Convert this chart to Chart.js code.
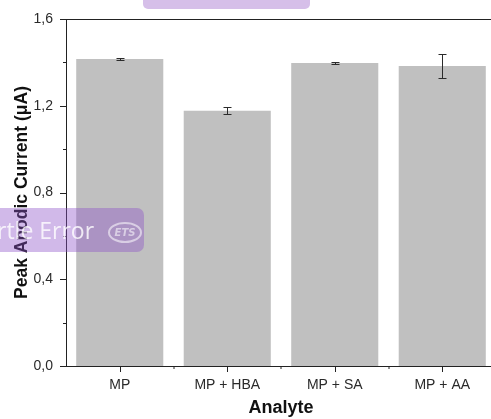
<!DOCTYPE html>
<html>
<head>
<meta charset="utf-8">
<script src="https://cdn.jsdelivr.net/npm/chart.js@4"></script>
<style>
  html, body { margin: 0; padding: 0; background: #fff; overflow: hidden; }
  #wrap { position: relative; width: 500px; height: 419px; }
  .topbar { position: absolute; left: 143px; top: -6px; width: 167px; height: 15px; background: #d6bfe9; border-radius: 5px; }
  .pill { position: absolute; left: -10px; top: 208px; width: 154px; height: 44px; background: rgba(140, 80, 200, 0.4); border-radius: 7px; }
  .pill .txt { position: absolute; left: 7px; top: 6px; font: 23px "Open Sans", sans-serif; color: rgba(255, 255, 255, 0.8); white-space: nowrap; }
  .pill .ets { position: absolute; left: 118px; top: 14px; width: 30px; height: 17px; border: 2px solid rgba(255, 255, 255, 0.55); border-radius: 50%; font: italic bold 10px "DejaVu Sans", sans-serif; color: rgba(255, 255, 255, 0.55); text-align: center; line-height: 17px; }
</style>
</head>
<body>
<div id="wrap">
  <canvas id="chart"></canvas>
  <div class="topbar"></div>
  <div class="pill"><span class="txt">rtle Error</span><span class="ets">ETS</span></div>
</div>
<script>
// dados
const categories = ['MP', 'MP + HBA', 'MP + SA', 'MP + AA'];
const means = [1.415, 1.177, 1.397, 1.383];
const errors = [0.006, 0.016, 0.004, 0.057];
const yTicks = [0, 0.4, 0.8, 1.2, 1.6];

// barras de erro, moldura e marcas dos eixos
const extras = {
    id: 'extras',
    afterDatasetsDraw(chart) {
        const { ctx, chartArea, scales: { x, y } } = chart;
        ctx.save();
        ctx.strokeStyle = '#2b2b2b';
        ctx.lineWidth = 1;

        const meta = chart.getDatasetMeta(0);
        meta.data.forEach((bar, i) => {
            const cx = Math.round(bar.x) + 0.5;
            const hi = Math.round(y.getPixelForValue(means[i] + errors[i])) + 0.5;
            const lo = Math.round(y.getPixelForValue(means[i] - errors[i])) + 0.5;
            ctx.beginPath();
            ctx.moveTo(cx, hi); ctx.lineTo(cx, lo);
            ctx.moveTo(cx - 4, hi); ctx.lineTo(cx + 4, hi);
            ctx.moveTo(cx - 4, lo); ctx.lineTo(cx + 4, lo);
            ctx.stroke();
        });

        // linha de cima
        ctx.strokeStyle = '#222';
        ctx.beginPath();
        ctx.moveTo(chartArea.left, chartArea.top + 0.5);
        ctx.lineTo(chartArea.right, chartArea.top + 0.5);
        ctx.stroke();

        // marcas do eixo y
        y.ticks.forEach(t => {
            const py = Math.round(y.getPixelForValue(t.value)) + 0.5;
            const major = yTicks.some(v => Math.abs(v - t.value) < 1e-6);
            ctx.beginPath();
            ctx.moveTo(chartArea.left - (major ? 6 : 3), py);
            ctx.lineTo(chartArea.left, py);
            ctx.stroke();
        });

        // marcas do eixo x
        const step = x.getPixelForValue(1) - x.getPixelForValue(0);
        categories.forEach((c, i) => {
            const px = Math.round(x.getPixelForValue(i)) + 0.5;
            ctx.beginPath();
            ctx.moveTo(px, chartArea.bottom);
            ctx.lineTo(px, chartArea.bottom + 6);
            ctx.moveTo(Math.round(px + step / 2), chartArea.bottom);
            ctx.lineTo(Math.round(px + step / 2), chartArea.bottom + 3);
            ctx.stroke();
        });
        ctx.restore();
    }
};

const ctx = document.getElementById('chart').getContext('2d');
new Chart(ctx, {
    type: 'bar',
    data: {
        labels: categories,
        datasets: [{
            data: means,
            backgroundColor: '#c0c0c0',
            borderWidth: 0,
            barPercentage: 0.81,
            categoryPercentage: 1
        }]
    },
    options: {
        responsive: true,
        maintainAspectRatio: false,
        animation: false,
        layout: { padding: { top: 19, right: 4, left: 0, bottom: 0 } },
        plugins: {
            legend: { display: false },
            tooltip: { enabled: false }
        },
        scales: {
            x: {
                afterFit: scale => { scale.height = 53; },
                grid: { display: false, drawTicks: true, tickLength: 6 },
                border: { display: true, color: '#222', width: 1 },
                ticks: {
                    color: '#2a2a2a',
                    padding: 5,
                    font: { family: 'Liberation Sans, Arial, sans-serif', size: 14 }
                },
                title: {
                    display: true,
                    text: 'Analyte',
                    color: '#111',
                    padding: { top: 0, bottom: 0 },
                    font: { family: 'Liberation Sans, Arial, sans-serif', size: 18, weight: 'bold' }
                }
            },
            y: {
                min: 0,
                max: 1.6,
                afterFit: scale => { scale.width = 66; },
                afterBuildTicks: scale => {
                    scale.ticks = [];
                    for (let v = 0; v <= 1.6001; v += 0.2) scale.ticks.push({ value: Math.round(v * 10) / 10 });
                },
                grid: { display: false, drawTicks: true, tickLength: 6 },
                border: { display: true, color: '#222', width: 1 },
                ticks: {
                    color: '#2a2a2a',
                    padding: 7,
                    autoSkip: false,
                    font: { family: 'Liberation Sans, Arial, sans-serif', size: 14 },
                    callback: v => yTicks.some(t => Math.abs(t - v) < 1e-6) ? v.toFixed(1).replace('.', ',') : ''
                },
                title: {
                    display: true,
                    text: 'Peak Anodic Current (\u03bcA)',
                    color: '#111',
                    padding: { top: 12, bottom: 0 },
                    font: { family: 'Liberation Sans, Arial, sans-serif', size: 17.5, weight: 'bold' }
                }
            }
        }
    },
    plugins: [extras]
});
</script>
</body>
</html>
